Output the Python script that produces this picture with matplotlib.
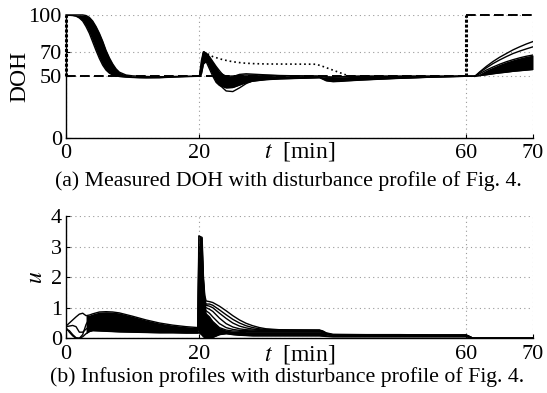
import numpy as np
import matplotlib
matplotlib.use("Agg")
import matplotlib.pyplot as plt

plt.rcParams['font.family'] = ['Liberation Serif', 'DejaVu Serif']
plt.rcParams['mathtext.fontset'] = 'stix'

# ---------------- data: panel (a) DOH ----------------
x_ticks = [0, 20, 60, 70]
doh_ticks = [0, 50, 70, 100]
u_ticks = [0, 1, 2, 3, 4]

# induction phase (0-20 min): fastest / slowest patient responses
t_ind = np.array([0, 1, 1.5, 2, 2.5, 3, 3.5, 4, 4.5, 5, 5.5, 6, 6.5, 7, 7.5, 8, 9, 10, 11, 12, 14, 16, 18, 20])
doh_fast = np.array([100, 99.5, 99, 97.5, 95, 90.5, 85, 78, 71, 64.5, 59, 55, 52.5, 51, 50.3, 49.8, 49.3, 49, 48.8, 48.7, 48.8, 49.3, 49.7, 50])
doh_slow = np.array([100, 100, 100, 100, 100, 99.5, 98, 95, 90.5, 85, 78.5, 71, 65, 60, 56, 53.3, 51, 50.3, 50, 49.8, 49.6, 49.8, 50, 50])

# disturbance phase (20-61.3 min)
t_dist = np.array([20, 20.3, 20.6, 21, 21.5, 22, 22.5, 23, 24, 25, 26, 27, 28, 30, 32, 35, 38, 38.5, 39, 40, 41, 42, 44, 47, 50, 55, 60, 61.3])
doh_hi2 = np.array([50, 63, 70, 68.5, 65, 61, 57, 53, 50, 50.2, 50.8, 51, 51, 50.7, 50.4, 50.2, 50, 49.6, 49.2, 49.2, 49.5, 49.7, 50, 50, 50, 50, 50, 50])
doh_lo2 = np.array([50, 52, 60, 62, 56, 50, 45, 42.5, 40.5, 40.8, 42.8, 44.8, 46, 47.2, 47.8, 48.3, 48.8, 47.6, 46.3, 45.6, 45.8, 46.2, 46.8, 47.6, 48.3, 49.3, 50, 50])
doh_out_lo = np.array([50, 58, 69, 67.5, 62, 55, 48, 43, 38, 37.5, 40.5, 44, 46.3, 47.8, 48.3, 48.7, 49, 48.2, 47, 46.5, 46.8, 47, 47.5, 48, 48.5, 49.3, 50, 50])
doh_out_hi = np.array([50, 60, 69.5, 69, 66, 62, 58, 54.5, 48, 49.5, 51.5, 52, 51.7, 51.1, 50.6, 50.3, 50.1, 49.8, 49.5, 49.3, 49.5, 49.8, 50, 50, 50, 50, 50, 50])

# disturbance profile (dotted)
t_dotted = [20.6, 22, 23.5, 25, 26.5, 28, 30, 37.5, 38.5, 40, 41.5, 42.5]
doh_dotted = [70, 66, 63.5, 61.8, 60.8, 60.3, 60, 59.8, 58, 55, 52, 50]

# final phase (61.3-70 min)
t_end = np.array([61.3, 62, 63, 64, 65, 66, 67, 68, 69, 70])
doh_hi3 = np.array([50, 52, 55, 57.5, 59.8, 61.8, 63.5, 65, 66.3, 67.3])
doh_lo3 = np.array([50, 50.5, 51.2, 52, 52.7, 53.3, 54, 54.5, 55, 55.5])
doh_out1 = np.array([50, 53.5, 58, 62, 65.5, 68.5, 71.5, 74, 76.3, 78.3])
doh_out2 = np.array([50, 53, 56.8, 60.3, 63.3, 66, 68.5, 70.5, 72.3, 74])

# reference (setpoint)
ref_times = [0, 60, 70]
ref_levels = [50, 100]

# ---------------- data: panel (b) infusion u ----------------
t_u1 = np.array([0, 0.5, 1, 1.5, 2, 2.5, 3, 3.5, 4, 5, 6, 7, 8, 10, 12, 14, 16, 18, 19.8])
u_a = np.array([0.4, 0.5, 0.6, 0.7, 0.79, 0.82, 0.74, 0.76, 0.8, 0.86, 0.87, 0.86, 0.83, 0.72, 0.6, 0.5, 0.43, 0.38, 0.35])
u_b = np.array([0.35, 0.2, 0.08, 0.0, 0.0, 0.12, 0.45, 0.65, 0.72, 0.76, 0.75, 0.72, 0.68, 0.58, 0.5, 0.42, 0.37, 0.33, 0.3])
u_c = np.array([0.3, 0.25, 0.12, 0.02, 0.0, 0.05, 0.15, 0.22, 0.25, 0.24, 0.23, 0.22, 0.21, 0.2, 0.19, 0.18, 0.18, 0.17, 0.17])
u_d = np.array([0.38, 0.4, 0.42, 0.38, 0.2, 0.2, 0.3, 0.38, 0.4, 0.42, 0.42, 0.41, 0.4, 0.37, 0.34, 0.31, 0.29, 0.27, 0.26])

t_u2 = np.array([19.8, 19.9, 20.4, 20.6, 20.8, 21, 21.5, 22, 23, 24, 25, 26, 27, 28, 29, 30, 32, 35, 38, 38.5, 39, 40, 45, 50, 55, 60, 60.5, 61, 70])
u_top2 = np.array([0.35, 3.35, 3.3, 2.0, 1.4, 1.22, 1.2, 1.17, 1.05, 0.9, 0.74, 0.6, 0.49, 0.41, 0.35, 0.31, 0.28, 0.27, 0.27, 0.24, 0.18, 0.13, 0.12, 0.12, 0.11, 0.11, 0.06, 0.0, 0.0])
u_d1 = np.array([0.33, 3.0, 2.9, 1.8, 1.25, 1.12, 1.12, 1.08, 0.93, 0.77, 0.62, 0.5, 0.41, 0.35, 0.31, 0.29, 0.27, 0.27, 0.26, 0.22, 0.16, 0.12, 0.11, 0.11, 0.1, 0.1, 0.05, 0.0, 0.0])
u_d1b = np.array([0.32, 2.8, 2.7, 1.7, 1.2, 1.08, 1.05, 1.0, 0.82, 0.65, 0.5, 0.4, 0.34, 0.3, 0.28, 0.27, 0.26, 0.26, 0.26, 0.21, 0.15, 0.11, 0.1, 0.1, 0.1, 0.1, 0.05, 0.0, 0.0])
u_d2 = np.array([0.3, 2.6, 2.5, 1.5, 1.1, 1.0, 0.95, 0.88, 0.66, 0.48, 0.37, 0.31, 0.28, 0.27, 0.26, 0.26, 0.25, 0.25, 0.25, 0.2, 0.14, 0.1, 0.1, 0.1, 0.1, 0.1, 0.05, 0.0, 0.0])
u_d2b = np.array([0.29, 2.4, 2.2, 1.35, 1.0, 0.9, 0.82, 0.7, 0.48, 0.35, 0.29, 0.26, 0.25, 0.24, 0.24, 0.24, 0.24, 0.24, 0.23, 0.19, 0.13, 0.1, 0.1, 0.1, 0.09, 0.09, 0.05, 0.0, 0.0])
u_d3 = np.array([0.28, 2.2, 2.0, 1.2, 0.9, 0.8, 0.7, 0.55, 0.35, 0.27, 0.24, 0.23, 0.22, 0.22, 0.22, 0.22, 0.22, 0.22, 0.22, 0.18, 0.12, 0.09, 0.09, 0.09, 0.09, 0.09, 0.04, 0.0, 0.0])
u_lo2 = np.array([0.2, 0.2, 0.1, 0.05, 0.02, 0.0, 0.0, 0.03, 0.12, 0.15, 0.12, 0.1, 0.09, 0.08, 0.08, 0.08, 0.08, 0.08, 0.08, 0.07, 0.06, 0.05, 0.05, 0.05, 0.05, 0.05, 0.02, 0.0, 0.0])

caption_a = "(a) Measured DOH with disturbance profile of Fig. 4."
caption_b = "(b) Infusion profiles with disturbance profile of Fig. 4."

# ---------------- figure ----------------
fig = plt.figure(figsize=(5.47, 3.93), dpi=100)
ax1 = fig.add_axes([0.1207, 0.650, 0.8537, 0.312])
ax2 = fig.add_axes([0.1207, 0.1392, 0.8537, 0.3112])

for ax in (ax1, ax2):
    ax.spines['top'].set_visible(False)
    ax.spines['right'].set_visible(False)
    ax.spines['left'].set_linewidth(1.0)
    ax.spines['bottom'].set_linewidth(1.0)
    ax.set_xlim(0, 70)
    ax.set_xticks(x_ticks)
    ax.grid(True, linestyle=(0, (1, 3)), color='0.6', linewidth=0.8)
    ax.set_axisbelow(True)
    ax.tick_params(direction='in', length=3, labelsize=16, pad=3, width=0.8)
    ax.tick_params(axis='x', pad=5)

lw = 1.0
k = 'black'

# panel (a)
ax1.set_ylim(0, 100)
ax1.set_yticks(doh_ticks)
ax1.fill_between(t_ind, doh_fast, doh_slow, color=k, lw=0)
ax1.plot(t_ind, doh_fast, color=k, lw=lw)
ax1.plot(t_ind, doh_slow, color=k, lw=lw, clip_on=False)
ax1.fill_between(t_dist, doh_lo2, doh_hi2, color=k, lw=0)
for y in (doh_hi2, doh_lo2, doh_out_lo, doh_out_hi):
    ax1.plot(t_dist, y, color=k, lw=lw)
ax1.fill_between(t_end, doh_lo3, doh_hi3, color=k, lw=0)
for y in (doh_hi3, doh_lo3, doh_out1, doh_out2):
    ax1.plot(t_end, y, color=k, lw=lw)
ax1.plot(t_dotted, doh_dotted, color=k, lw=1.2, linestyle=(0, (1, 1.8)))
# setpoint
ax1.plot([ref_times[0], ref_times[1]], [ref_levels[0], ref_levels[0]], color=k, lw=1.4, dashes=(5, 2.2))
ax1.plot([ref_times[1], ref_times[2]], [ref_levels[1], ref_levels[1]], color=k, lw=1.4, dashes=(5, 2.2), clip_on=False)
for tt in ref_times[:2]:
    ax1.plot([tt, tt], ref_levels, color=k, lw=2.2, linestyle=(0, (1, 0.6)), clip_on=False)

ax1.set_ylabel('DOH', fontsize=17)
ax1.yaxis.label.set(ha='center', va='center')
ax1.yaxis.set_label_coords(-0.098, 0.5)
ax1.set_xlabel('$t$  [min]', fontsize=17)
ax1.xaxis.set_label_coords(0.5, -0.02)
ax1.xaxis.label.set(va='top')

# panel (b)
ax2.set_ylim(0, 4)
ax2.set_yticks(u_ticks)
mask = t_u1 >= 3
ax2.fill_between(t_u1, u_c, u_a, where=mask, color=k, lw=0, interpolate=True)
for y in (u_a, u_b, u_c, u_d):
    ax2.plot(t_u1, y, color=k, lw=lw)
spike_top = np.where(t_u2 <= 20.8, u_top2, u_d3)
ax2.fill_between(t_u2, u_lo2, spike_top, color=k, lw=0)
for y in (u_top2, u_d1, u_d1b, u_d2, u_d2b, u_d3, u_lo2):
    ax2.plot(t_u2, y, color=k, lw=lw)

ax2.set_ylabel('$u$', fontsize=17)
ax2.yaxis.label.set(ha='center', va='center')
ax2.yaxis.set_label_coords(-0.064, 0.5)
ax2.set_xlabel('$t$  [min]', fontsize=17)
ax2.xaxis.set_label_coords(0.5, -0.035)
ax2.xaxis.label.set(va='top')

fig.text(288 / 547, 1 - 181 / 393, caption_a, ha='center', va='center', fontsize=15.7)
fig.text(287 / 547, 1 - 377 / 393, caption_b, ha='center', va='center', fontsize=15.7)

fig.savefig('out.png', dpi=100)
